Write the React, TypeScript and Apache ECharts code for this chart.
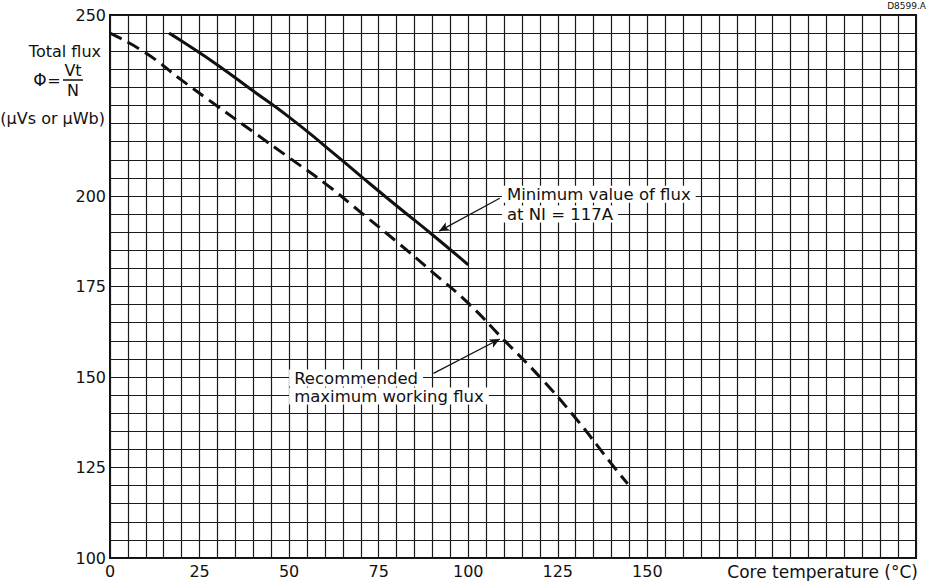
import React, { useEffect, useRef } from 'react';
import * as echarts from 'echarts';

const xTickLabels = [0, 25, 50, 75, 100, 125, 150];
const yTickLabels = [100, 125, 150, 175, 200, 250];

// Recommended maximum working flux (dashed)
const recommendedFlux: [number, number][] = [
  [0, 245], [10, 239.5], [20, 232], [30, 224.8], [40, 217.7], [50, 210.6],
  [60, 203.5], [70, 195.5], [80, 187.4], [90, 179], [100, 170.4], [110, 160.2],
  [120, 150], [130, 138.6], [140, 126], [144.5, 120.5],
];

// Minimum value of flux at NI = 117A (solid)
const minimumFlux: [number, number][] = [
  [16.5, 245], [20, 242.8], [30, 236.2], [40, 229], [50, 221.8], [60, 213.8],
  [70, 205.5], [80, 197.3], [90, 189.3], [100, 181],
];

const arrowMin = [[108.8, 199.4], [91.9, 190.3]];
const arrowRec = [[90.3, 151], [108.8, 160.5]];

const FONT = 'DejaVu Sans';

export default function App() {
  const ref = useRef<HTMLDivElement>(null);
  useEffect(() => {
    const chart = echarts.init(ref.current!, null, { renderer: 'svg' });
    chart.setOption({
      animation: false,
      backgroundColor: '#ffffff',
      grid: {
        left: 110, top: 15, width: 806, height: 543,
        show: true, borderColor: '#111', borderWidth: 2, backgroundColor: 'transparent',
      },
      xAxis: {
        type: 'value', min: 0, max: 225, interval: 5,
        axisLine: { show: false }, axisTick: { show: false },
        splitLine: { show: true, lineStyle: { color: '#1a1a1a', width: 1.2 } },
        axisLabel: {
          formatter: (v: number) => (xTickLabels.includes(v) ? String(v) : ''),
          color: '#111', fontSize: 16, fontFamily: FONT, margin: 5,
        },
      },
      yAxis: {
        type: 'value', min: 100, max: 250, interval: 5,
        axisLine: { show: false }, axisTick: { show: false },
        splitLine: { show: true, lineStyle: { color: '#1a1a1a', width: 1.2 } },
        axisLabel: {
          formatter: (v: number) => (yTickLabels.includes(v) ? String(v) : ''),
          color: '#111', fontSize: 16, fontFamily: FONT, margin: 4,
        },
      },
      series: [
        {
          type: 'line', data: recommendedFlux, symbol: 'none', smooth: true,
          lineStyle: { color: '#111', width: 3, type: [13, 7] },
          markLine: {
            silent: true, symbol: ['none', 'arrow'], symbolSize: [7, 10],
            label: { show: false },
            lineStyle: { color: '#111', width: 1.2, type: 'solid' },
            data: [[{ coord: arrowRec[0] }, { coord: arrowRec[1] }]],
          },
        },
        {
          type: 'line', data: minimumFlux, symbol: 'none', smooth: true,
          lineStyle: { color: '#111', width: 3, type: 'solid' },
          markLine: {
            silent: true, symbol: ['none', 'arrow'], symbolSize: [7, 10],
            label: { show: false },
            lineStyle: { color: '#111', width: 1.2, type: 'solid' },
            data: [[{ coord: arrowMin[0] }, { coord: arrowMin[1] }]],
          },
        },
      ],
    });

    const px = (p: number[]) => chart.convertToPixel({ gridIndex: 0 }, p) as number[];
    const a1 = px([110.8, 200.5]);
    const a2 = px([110.8, 195.0]);
    const b1 = px([51.4, 149.7]);
    const b2 = px([51.4, 144.75]);
    const xEnd = px([225, 100]);

    const txt = (text: string, x: number, y: number, size: number, align = 'left', bg = true) => ({
      type: 'text', x, y, z: 100,
      style: {
        text, fill: '#111', font: `${size}px ${FONT}`, align, verticalAlign: 'middle',
        lineHeight: bg ? 17 : undefined,
        backgroundColor: bg ? '#ffffff' : undefined, padding: bg ? [0, 5, 0, 5] : 0,
      },
    });

    chart.setOption({
      graphic: [
        txt('Minimum value of flux', a1[0] - 5, a1[1], 16.5),
        txt('at NI = 117A', a2[0] - 5, a2[1], 16.5),
        txt('Recommended', b1[0] - 5, b1[1], 16.5),
        txt('maximum working flux', b2[0] - 5, b2[1], 16.5),
        txt('Core temperature (°C)', xEnd[0] + 2, xEnd[1] + 14, 17, 'right', false),
        txt('Total flux', 101, 51, 16, 'right', false),
        txt('Φ', 40, 80, 17, 'center', false),
        txt('=', 54, 80, 16, 'center', false),
        txt('Vt', 73, 70, 16, 'center', false),
        { type: 'line', z: 100, shape: { x1: 63, y1: 80, x2: 83, y2: 80 }, style: { stroke: '#111', lineWidth: 1.5 } },
        txt('N', 73, 90, 16, 'center', false),
        txt('(μVs or μWb)', 105, 118, 16, 'right', false),
        txt('D8599.A', 926, 6, 9, 'right', false),
      ],
    });

    return () => chart.dispose();
  }, []);
  return <div ref={ref} style={{ position: 'fixed', left: 0, top: 0, width: 934, height: 581 }} />;
}
